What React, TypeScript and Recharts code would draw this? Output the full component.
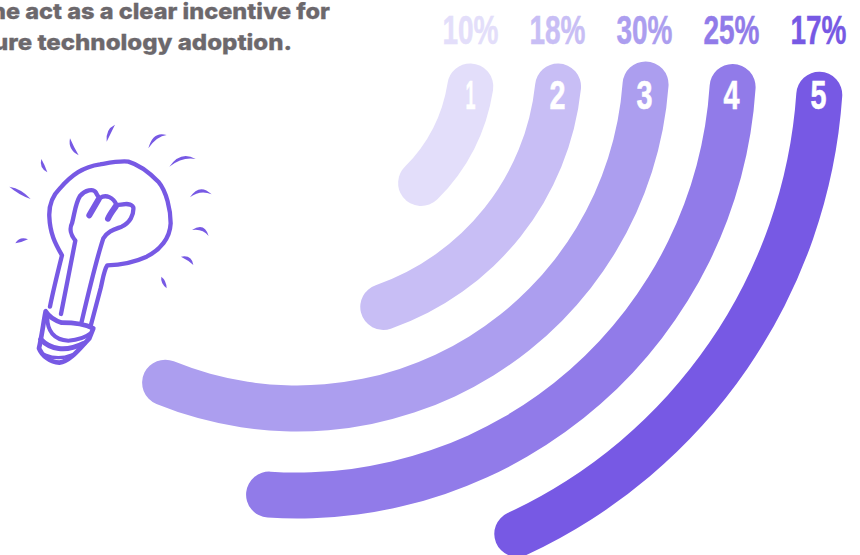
import React from "react";
import { RadialBarChart, RadialBar, PolarAngleAxis, Sector } from "recharts";

const stepLabels = ["1", "2", "3", "4", "5"];
const shares = [10, 18, 30, 25, 17];
const barColors = ["#E3DEFA", "#C8BEF5", "#AC9EEF", "#917BE9", "#7759E4"];
const arcTilt = [1.5, 1.0, 0.4, 0.65, 1.4];
const headlineLines = ["he act as a clear incentive for", "ure technology adoption."];

const rows = stepLabels.map((step, i) => ({ step, share: shares[i] }));

const CONDENSED = "'Liberation Sans Narrow','Liberation Sans',sans-serif";
const BAR_HALF = 23;

// Rounded arc whose round caps sit outside the value sweep, followed by its two labels.
function ArcWithLabels(props: any) {
  const { cx, cy, innerRadius, outerRadius, startAngle, endAngle, index } = props;
  const mid = (innerRadius + outerRadius) / 2;
  const capAngle = ((BAR_HALF / mid) * 180) / Math.PI;
  const color = barColors[index];
  const labelX = cx + mid - 2;
  const tilt = arcTilt[index];
  return (
    <g>
      <Sector
        cx={cx}
        cy={cy}
        innerRadius={innerRadius}
        outerRadius={outerRadius}
        startAngle={startAngle - tilt}
        endAngle={endAngle - tilt - 2 * capAngle}
        cornerRadius={BAR_HALF}
        fill={color}
      />
      <text
        x={labelX}
        y={44}
        textAnchor="middle"
        fontFamily={CONDENSED}
        fontWeight={700}
        fontSize={41}
        textLength={56}
        lengthAdjust="spacingAndGlyphs"
        fill={color}
        stroke={color}
        strokeWidth={0.5}
      >
        {`${shares[index]}%`}
      </text>
      <text
        x={labelX}
        y={109}
        textAnchor="middle"
        fontFamily={CONDENSED}
        fontWeight={700}
        fontSize={41}
        textLength={index === 0 ? 10 : 16}
        lengthAdjust="spacingAndGlyphs"
        fill="#ffffff"
        stroke="#ffffff"
        strokeWidth={0.6}
      >
        {stepLabels[index]}
      </text>
    </g>
  );
}

// Sparks around the bulb: start, bend, end.
const rays = [
  [28, 230, 60, 245, 92, 267],
  [46, 400, 62, 388, 84, 388],
  [124, 147, 126, 170, 142, 187],
  [210, 85, 212, 115, 236, 136],
  [345, 44, 325, 62, 320, 95],
  [500, 75, 465, 70, 445, 115],
  [587, 147, 545, 130, 508, 170],
  [635, 253, 600, 228, 570, 262],
  [626, 378, 610, 345, 576, 360],
  [580, 465, 570, 442, 543, 440],
  [484, 500, 490, 515, 500, 535],
];

function rayPath([x1, y1, cx, cy, x2, y2]: number[]) {
  const dx = x2 - x1;
  const dy = y2 - y1;
  const len = Math.hypot(dx, dy);
  const nx = (-dy / len) * 10;
  const ny = (dx / len) * 10;
  return `M${x1} ${y1}Q${cx + nx} ${cy + ny} ${x2} ${y2}Q${cx - nx} ${cy - ny} ${x1} ${y1}Z`;
}

function Bulb() {
  const ink = "#7759E4";
  return (
    <g transform="translate(0 110) scale(0.3333)" fill="none" stroke={ink} strokeLinecap="round" strokeLinejoin="round">
      {rays.map((r, i) => (
        <path key={i} d={rayPath(r)} fill={ink} stroke="none" />
      ))}
      <path
        strokeWidth={13}
        d="M150 590C160 540 175 480 186 436C165 400 150 370 148 320C146 280 160 255 180 235C215 195 250 170 300 163C330 158 360 152 385 155C420 165 450 190 475 215C500 245 512 300 512 340C510 385 480 420 440 440C400 458 360 465 322 466C312 480 308 510 302 535L272 648"
      />
      <path
        strokeWidth={13}
        d="M183 612C195 550 215 450 226 392C212 375 208 355 216 340C224 310 226 280 240 258C255 240 280 235 288 248C292 256 295 262 300 264C318 252 340 262 350 285C365 285 392 275 400 292C402 315 390 338 365 350C345 358 325 362 310 385C295 430 265 550 245 635"
      />
      <path strokeWidth={18} d="M296 268L268 316" />
      <path strokeWidth={18} d="M348 288C340 300 330 312 324 326" />
      <path
        strokeWidth={14}
        d="M137 604C130 640 125 680 117 715C125 735 150 758 178 758C210 755 240 715 268 685L280 655C250 640 215 638 185 638C165 632 150 625 137 604Z"
      />
      <path strokeWidth={12} d="M142 625C142 660 160 690 205 692C235 690 255 684 272 670" />
      <path strokeWidth={15} d="M122 688C150 718 195 728 252 700" />
      <path strokeWidth={10} d="M136 735C160 745 190 745 215 735" />
    </g>
  );
}

export default function App() {
  return (
    <div style={{ position: "absolute", left: 0, top: 0, width: 860, height: 555, overflow: "hidden", background: "#fff" }}>
      <RadialBarChart
        width={860}
        height={555}
        data={rows}
        cx={297}
        cy={59}
        innerRadius={131.5}
        outerRadius={566.5}
        barSize={46}
        startAngle={0}
        endAngle={-360}
        margin={{ top: 0, right: 0, bottom: 0, left: 0 }}
      >
        <PolarAngleAxis type="number" domain={[0, 100]} tick={false} axisLine={false} />
        <RadialBar dataKey="share" isAnimationActive={false} shape={ArcWithLabels} />
      </RadialBarChart>
      <svg width={860} height={555} style={{ position: "absolute", left: 0, top: 0, pointerEvents: "none" }}>
        <Bulb />
        <text x={-9} y={19} fontFamily="Inter" fontWeight={800} fontSize={22} fill="#6C686C" stroke="#6C686C" strokeWidth={0.3} textLength={339} lengthAdjust="spacingAndGlyphs">
          {headlineLines[0]}
        </text>
        <text x={-7} y={50} fontFamily="Inter" fontWeight={800} fontSize={22} fill="#6C686C" stroke="#6C686C" strokeWidth={0.3} textLength={299} lengthAdjust="spacingAndGlyphs">
          {headlineLines[1]}
        </text>
      </svg>
    </div>
  );
}
